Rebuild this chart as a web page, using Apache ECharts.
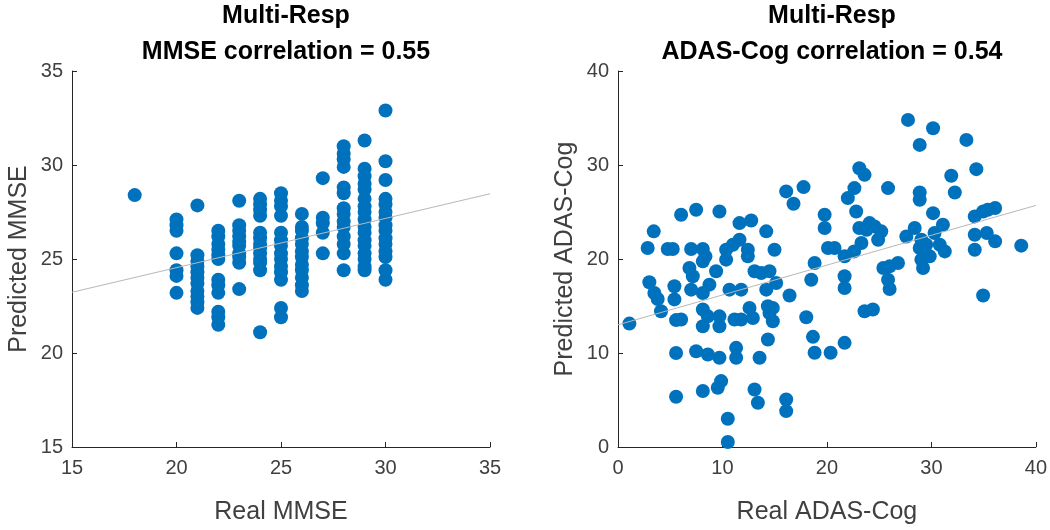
<!DOCTYPE html>
<html><head><meta charset="utf-8">
<script src="https://cdn.jsdelivr.net/npm/echarts@6/dist/echarts.min.js"></script>
<style>html,body{margin:0;padding:0;background:#fff}#c{width:1050px;height:530px}</style>
</head><body><div id="c"></div>
<script>
// ---- Left panel: MMSE (real x, predicted y) ----
const mmseColumns = [18,20,21,22,23,24,25,26,27,28,29,30];
const mmsePredicted = [
  [28.4],
  [27.1,26.8,26.5,25.3,24.4,24.1,23.2],
  [27.85,25.2,24.9,24.6,24.3,24.0,23.7,23.3,23.0,22.7,22.4],
  [26.5,26.2,25.8,25.5,25.2,25.0,23.9,23.6,23.2,22.2,21.9,21.5],
  [28.1,26.8,26.5,26.2,25.9,25.7,25.3,25.1,24.8,23.4],
  [28.2,27.9,27.6,27.3,26.4,26.1,25.8,25.6,25.3,25.0,24.8,24.4,21.1],
  [28.5,28.1,27.8,27.3,26.4,26.0,25.7,25.3,25.0,24.6,24.3,23.9,22.4,21.9],
  [27.4,26.7,26.5,26.1,25.8,25.4,25.1,24.7,24.4,24.0,23.6,23.3],
  [29.3,27.2,26.9,26.4,25.3],
  [31.0,30.6,30.3,29.9,28.8,28.5,27.7,27.4,27.0,26.7,26.2,25.8,25.3,24.4],
  [31.3,29.8,29.4,29.0,28.7,28.2,27.8,27.5,27.1,26.7,26.4,26.0,25.7,25.3,25.0,24.6,24.4],
  [32.9,30.2,29.2,28.2,27.9,27.5,27.2,26.8,26.5,26.1,25.8,25.4,25.1,24.4,23.9]
];
const mmseFitX = [15, 35];
const mmseFitY = [23.23, 28.47];

// ---- Right panel: ADAS-Cog ----
const adasReal = [1.09,2.84,3.42,3.0,3.48,3.8,4.12,4.76,5.24,6.04,5.4,5.4,5.56,6.04,5.56,5.56,7.48,7.0,6.84,7.16,7.0,7.48,8.12,8.37,8.12,8.75,8.12,8.12,8.6,8.12,8.6,8.12,9.71,9.39,9.71,9.71,9.71,9.87,9.55,10.35,10.35,10.67,10.51,10.51,11.0,11.15,11.31,11.31,11.63,11.63,11.79,11.79,12.43,12.43,12.75,12.59,12.91,13.07,13.39,13.55,13.07,13.71,14.19,14.19,14.5,14.35,14.5,14.82,14.35,14.82,14.98,15.14,16.1,16.1,16.1,16.42,16.8,17.76,18.02,18.5,18.82,18.66,18.82,19.78,19.78,20.1,20.73,20.35,21.69,21.69,21.69,21.69,22.0,22.63,22.8,23.1,23.6,23.1,22.6,23.3,23.8,23.6,24.4,24.08,24.55,24.9,25.2,25.85,25.4,26.0,25.85,26.0,26.8,27.76,27.6,28.4,28.88,28.88,28.88,29.04,28.88,29.04,29.2,29.5,29.84,30.16,30.16,30.3,31.1,30.8,31.28,31.9,32.24,33.35,34.15,34.15,34.15,34.3,34.95,34.95,35.4,36.1,35.3,36.1,38.6];
const adasPredicted = [13.13,21.17,22.94,17.52,16.39,15.75,14.44,21.06,21.06,24.7,17.1,15.7,13.5,13.56,10.0,5.35,25.24,21.06,19.04,18.16,16.74,10.19,21.06,20.28,19.75,17.27,16.39,14.62,13.9,12.85,9.84,5.95,25.06,18.7,13.9,12.85,9.49,7.01,6.3,20.99,19.93,16.74,3.0,0.53,21.52,13.56,10.55,9.49,23.82,22.05,16.74,13.56,20.99,20.28,24.1,14.8,13.73,6.12,4.71,9.49,18.7,18.5,22.94,16.74,18.7,14.97,14.26,13.38,11.43,14.8,20.99,17.45,27.19,5.06,3.82,16.11,25.88,27.65,13.8,17.8,19.58,11.72,10.02,24.7,23.29,21.17,21.17,10.02,20.28,18.16,16.92,11.08,26.48,27.54,25.06,29.66,28.95,23.29,20.81,21.7,23.1,14.44,14.62,23.82,23.47,22.05,22.94,27.54,19.04,19.22,17.8,16.81,19.58,34.8,22.4,23.3,27.08,26.3,32.14,22.05,21.17,19.93,19.04,21.52,20.28,33.91,24.88,22.76,23.65,21.52,20.81,28.85,27.08,32.67,24.53,22.58,20.99,29.56,16.11,25.06,25.24,25.42,22.76,21.88,21.42];
const adasFitX = [0, 40];
const adasFitY = [13.0, 25.7];

const ticksMMSE = {min:15, max:35, interval:5};
const ticksADAS = {min:0, max:40, interval:10};
const titlesLine1 = ['Multi-Resp','Multi-Resp'];
const titlesLine2 = ['MMSE correlation = 0.55','ADAS-Cog correlation = 0.54'];
const xNames = ['Real MMSE','Real ADAS-Cog'];
const yNames = ['Predicted MMSE','Predicted ADAS-Cog'];

const mmsePts = [];
mmseColumns.forEach((x,i)=>mmsePredicted[i].forEach(y=>mmsePts.push([x,y])));
const adasPts = adasReal.map((x,i)=>[x,adasPredicted[i]]);

const FONT = 'Liberation Sans, Arial, Helvetica, sans-serif';
const AX = '#262626';
function xAx(idx, t, name){
  return {gridIndex:idx, type:'value', min:t.min, max:t.max, interval:t.interval,
    name:name, nameLocation:'middle', nameGap:53,
    nameTextStyle:{fontSize:25, color:'#404040', fontFamily:FONT},
    axisLine:{show:true, onZero:false, lineStyle:{color:AX, width:1}},
    axisTick:{show:true, inside:true, length:5, lineStyle:{color:AX}},
    axisLabel:{fontSize:20, color:'#404040', fontFamily:FONT, margin:11},
    splitLine:{show:false}};
}
function yAx(idx, t, name){
  return {gridIndex:idx, type:'value', min:t.min, max:t.max, interval:t.interval,
    name:name, nameLocation:'middle', nameGap:40,
    nameTextStyle:{fontSize:25, color:'#404040', fontFamily:FONT},
    axisLine:{show:true, onZero:false, lineStyle:{color:AX, width:1}},
    axisTick:{show:true, inside:true, length:5, lineStyle:{color:AX}},
    axisLabel:{fontSize:20, color:'#404040', fontFamily:FONT, margin:9},
    splitLine:{show:false}};
}
const chart = echarts.init(document.getElementById('c'), null, {renderer:'canvas'});
const titleStyle = {fontSize:25, fontWeight:'bold', color:'#000', fontFamily:FONT, lineHeight:36};
chart.setOption({
  animation:false,
  backgroundColor:'#fff',
  title:[
    {text:titlesLine1[0]+'\n'+titlesLine2[0], left:281, top:-7, textAlign:'center', textStyle:titleStyle},
    {text:titlesLine1[1]+'\n'+titlesLine2[1], left:827, top:-7, textAlign:'center', textStyle:titleStyle}
  ],
  grid:[
    {left:72, top:71, width:418, height:377},
    {left:618, top:71, width:418, height:377}
  ],
  xAxis:[xAx(0,ticksMMSE,xNames[0]), xAx(1,ticksADAS,xNames[1])],
  yAxis:[yAx(0,ticksMMSE,yNames[0]), yAx(1,ticksADAS,yNames[1])],
  series:[
    {type:'scatter', xAxisIndex:0, yAxisIndex:0, data:mmsePts, symbolSize:14,
     itemStyle:{color:'#0072BD', opacity:1}, z:2},
    {type:'line', xAxisIndex:0, yAxisIndex:0, data:mmseFitX.map((x,i)=>[x,mmseFitY[i]]),
     symbol:'none', lineStyle:{color:'#b8b8b8', width:1}, z:3},
    {type:'scatter', xAxisIndex:1, yAxisIndex:1, data:adasPts, symbolSize:14,
     itemStyle:{color:'#0072BD', opacity:1}, z:2},
    {type:'line', xAxisIndex:1, yAxisIndex:1, data:adasFitX.map((x,i)=>[x,adasFitY[i]]),
     symbol:'none', lineStyle:{color:'#b8b8b8', width:1}, z:3}
  ]
});
</script></body></html>
